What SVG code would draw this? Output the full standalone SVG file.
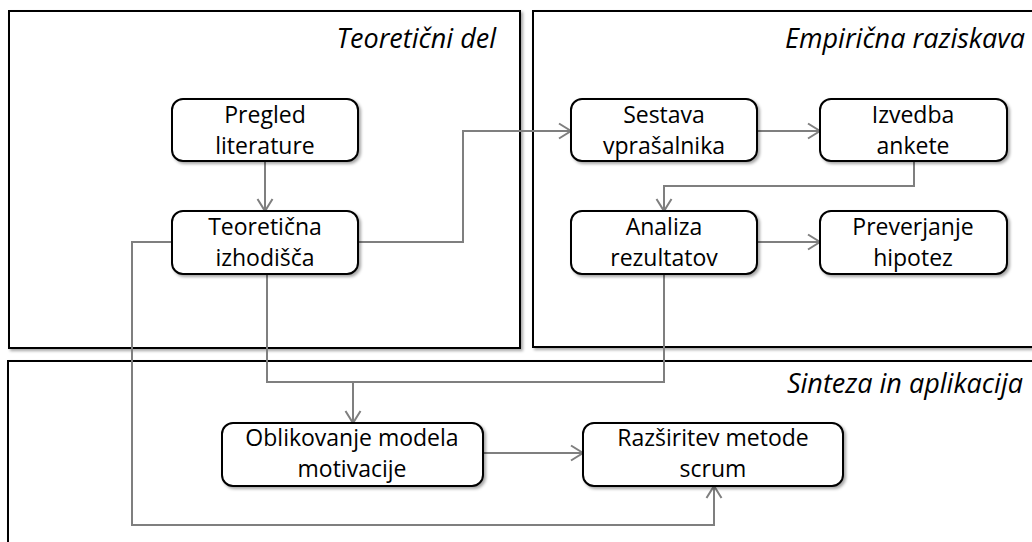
<svg xmlns="http://www.w3.org/2000/svg" width="1032" height="542" viewBox="0 0 1032 542">
  <defs>
    <filter id="shadow" x="-5%" y="-5%" width="110%" height="115%">
      <feDropShadow dx="2" dy="2" stdDeviation="1.5" flood-color="#000" flood-opacity="0.35"/>
    </filter>
    <marker id="arrow" markerUnits="userSpaceOnUse" markerWidth="16" markerHeight="18" refX="13" refY="9" orient="auto">
      <path d="M1,1.5 L13,9 L1,16.5" fill="none" stroke="#7f7f7f" stroke-width="2"/>
    </marker>
    <style>
      .panel { fill: #fff; stroke: #000; stroke-width: 2; filter: url(#shadow); }
      .box { fill: #fff; stroke: #000; stroke-width: 2; filter: url(#shadow); }
      .title { font-family: "Open Sans", "Liberation Sans", sans-serif; font-style: italic; font-size: 27px; fill: #000; text-anchor: end; }
      .label { font-family: "Open Sans", "Liberation Sans", sans-serif; font-size: 23px; fill: #000; text-anchor: middle; }
      .conn { fill: none; stroke: #7f7f7f; stroke-width: 2; }
      .arr { marker-end: url(#arrow); }
    </style>
  </defs>

  <!-- section panels -->
  <g id="panel-teoreticni">
    <rect class="panel" x="9" y="11" width="511" height="337"/>
    <text class="title" x="496" y="48">Teoretični del</text>
  </g>
  <g id="panel-empiricna">
    <rect class="panel" x="533" y="11" width="510" height="336"/>
    <text class="title" x="1025" y="48">Empirična raziskava</text>
  </g>
  <g id="panel-sinteza">
    <rect class="panel" x="8" y="361" width="1035" height="200"/>
    <text class="title" x="1023" y="393">Sinteza in aplikacija</text>
  </g>

  <!-- connectors -->
  <g id="connectors">
    <path class="conn arr" d="M265,161 V211"/>
    <path class="conn arr" d="M358,242 H463 V131 H571"/>
    <path class="conn arr" d="M757,131 H820"/>
    <path class="conn arr" d="M914,161 V186 H664 V211"/>
    <path class="conn arr" d="M757,242 H820"/>
    <path class="conn" d="M267,274 V382 H664 V274"/>
    <path class="conn arr" d="M353,382 V423"/>
    <path class="conn arr" d="M483,453 H583"/>
    <path class="conn arr" d="M172,242 H132 V525 H714 V486"/>
  </g>

  <!-- nodes -->
  <g id="node-pregled">
    <rect class="box" x="172" y="99" width="186" height="62" rx="11"/>
    <text class="label" x="265" y="123">Pregled</text>
    <text class="label" x="265" y="154">literature</text>
  </g>
  <g id="node-teoreticna">
    <rect class="box" x="172" y="211" width="186" height="63" rx="11"/>
    <text class="label" x="265" y="235">Teoretična</text>
    <text class="label" x="265" y="266">izhodišča</text>
  </g>
  <g id="node-sestava">
    <rect class="box" x="571" y="99" width="186" height="62" rx="11"/>
    <text class="label" x="664" y="123">Sestava</text>
    <text class="label" x="664" y="154">vprašalnika</text>
  </g>
  <g id="node-izvedba">
    <rect class="box" x="820" y="99" width="187" height="62" rx="11"/>
    <text class="label" x="913" y="123">Izvedba</text>
    <text class="label" x="913" y="154">ankete</text>
  </g>
  <g id="node-analiza">
    <rect class="box" x="571" y="211" width="186" height="63" rx="11"/>
    <text class="label" x="664" y="235">Analiza</text>
    <text class="label" x="664" y="266">rezultatov</text>
  </g>
  <g id="node-preverjanje">
    <rect class="box" x="820" y="211" width="187" height="63" rx="11"/>
    <text class="label" x="913" y="235">Preverjanje</text>
    <text class="label" x="913" y="266">hipotez</text>
  </g>
  <g id="node-oblikovanje">
    <rect class="box" x="222" y="423" width="261" height="63" rx="11"/>
    <text class="label" x="352" y="446">Oblikovanje modela</text>
    <text class="label" x="352" y="477">motivacije</text>
  </g>
  <g id="node-razsiritev">
    <rect class="box" x="583" y="423" width="260" height="63" rx="11"/>
    <text class="label" x="713" y="446">Razširitev metode</text>
    <text class="label" x="713" y="477">scrum</text>
  </g>
</svg>
